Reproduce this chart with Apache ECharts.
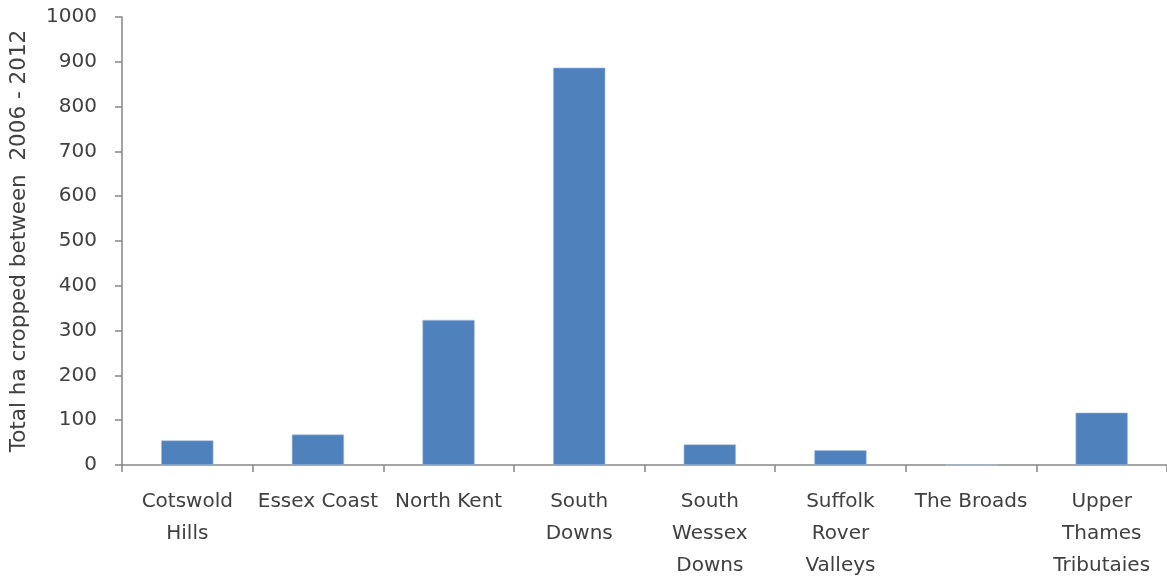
<!DOCTYPE html>
<html>
<head>
<meta charset="utf-8">
<script src="https://cdn.jsdelivr.net/npm/echarts@6/dist/echarts.min.js"></script>
<style>
  html, body { margin: 0; padding: 0; background: #fff; overflow: hidden; }
  #chart { width: 1167px; height: 582px; }
</style>
</head>
<body>
<div id="chart"></div>
<script>
// Area cropped per region, 2006 - 2012 (ha)
const categories = ['Cotswold Hills', 'Essex Coast', 'North Kent', 'South Downs',
  'South Wessex Downs', 'Suffolk Rover Valleys', 'The Broads', 'Upper Thames Tributaies'];
const tickLabels = ['Cotswold\nHills', 'Essex Coast', 'North Kent', 'South\nDowns',
  'South\nWessex\nDowns', 'Suffolk\nRover\nValleys', 'The Broads', 'Upper\nThames\nTributaies'];
const hectares = [55, 68, 324, 887, 46, 33, 0, 117];

const axisColor = '#868686';
const textColor = '#404040';
const fontFamily = '"DejaVu Sans", sans-serif';

const chart = echarts.init(document.getElementById('chart'));
chart.setOption({
  animation: false,
  grid: { left: 122, right: 0, top: 17, bottom: 112, containLabel: false },
  xAxis: {
    type: 'category',
    data: categories,
    axisLine: { lineStyle: { color: axisColor, width: 1.5 } },
    axisTick: { show: true, length: 7, lineStyle: { color: axisColor, width: 1.5 } },
    axisLabel: {
      interval: 0,
      margin: 21,
      color: textColor,
      fontFamily: fontFamily,
      fontSize: 20,
      lineHeight: 32,
      formatter: (v, i) => tickLabels[i]
    }
  },
  yAxis: {
    type: 'value',
    min: 0,
    max: 1000,
    interval: 100,
    name: 'Total ha cropped between  2006 - 2012',
    nameLocation: 'middle',
    nameGap: 92,
    nameTextStyle: { color: textColor, fontFamily: fontFamily, fontSize: 21.5 },
    splitLine: { show: false },
    axisLine: { show: true, lineStyle: { color: axisColor, width: 1.5 } },
    axisTick: { show: true, length: 7, lineStyle: { color: axisColor, width: 1.5 } },
    axisLabel: {
      margin: 25,
      color: textColor,
      fontFamily: fontFamily,
      fontSize: 20,
      formatter: v => String(v)
    }
  },
  series: [{
    type: 'bar',
    data: hectares,
    barWidth: '40%',
    itemStyle: { color: '#4F81BD', borderColor: '#a9c1e0', borderWidth: 0.6 }
  }]
});
</script>
</body>
</html>
